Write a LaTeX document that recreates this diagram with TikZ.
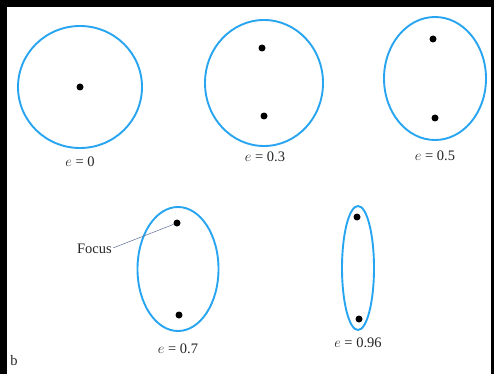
\documentclass[tikz,border=0pt]{standalone}
\usepackage{fontspec}
\setmainfont{Liberation Serif}
\definecolor{orbit}{RGB}{40,165,240}
\definecolor{leader}{RGB}{90,110,150}
\begin{document}
\begin{tikzpicture}[x=1pt,y=-1pt,
  orb/.style={draw=orbit,line width=1.9pt},
  fdot/.style={circle,fill=black,inner sep=0pt,minimum size=7pt},
  lab/.style={font=\fontsize{14.5}{16}\selectfont,text=black!85,inner sep=0pt}]
\useasboundingbox (0,0) rectangle (494,374);
\fill[black] (0,0) rectangle (494,374);
\fill[white] (7,7) rectangle (491,374);
% e = 0
\draw[orb] (80,87) ellipse (62 and 61);
\node[fdot] (f0) at (80,87) {};
\node[lab] (l0) at (80,162) {$e$ = 0};
% e = 0.3
\draw[orb] (264,83) ellipse (59 and 63);
\node[fdot] (f3a) at (262,48) {};
\node[fdot] (f3b) at (264,116) {};
\node[lab] (l3) at (265,157) {$e$ = 0.3};
% e = 0.5
\draw[orb] (435,78.5) ellipse (51 and 61.5);
\node[fdot] (f5a) at (433,39) {};
\node[fdot] (f5b) at (435,118) {};
\node[lab] (l5) at (435,156) {$e$ = 0.5};
% e = 0.7
\draw[orb] (178,269) ellipse (40.5 and 62);
\node[fdot] (f7a) at (177,223) {};
\node[fdot] (f7b) at (179,315) {};
\node[lab] (l7) at (178,349) {$e$ = 0.7};
% e = 0.96
\draw[orb] (358,268) ellipse (16 and 62);
\node[fdot] (f9a) at (357,217) {};
\node[fdot] (f9b) at (359,319) {};
\node[lab] (l9) at (358,343) {$e$ = 0.96};
% focus label
\node[lab,anchor=east] (focus) at (112,249) {Focus};
\draw[leader,line width=0.5pt] (focus.east) ++(1,-1) -- (f7a);
\node[lab] (b) at (14,361) {b};
\end{tikzpicture}
\end{document}
